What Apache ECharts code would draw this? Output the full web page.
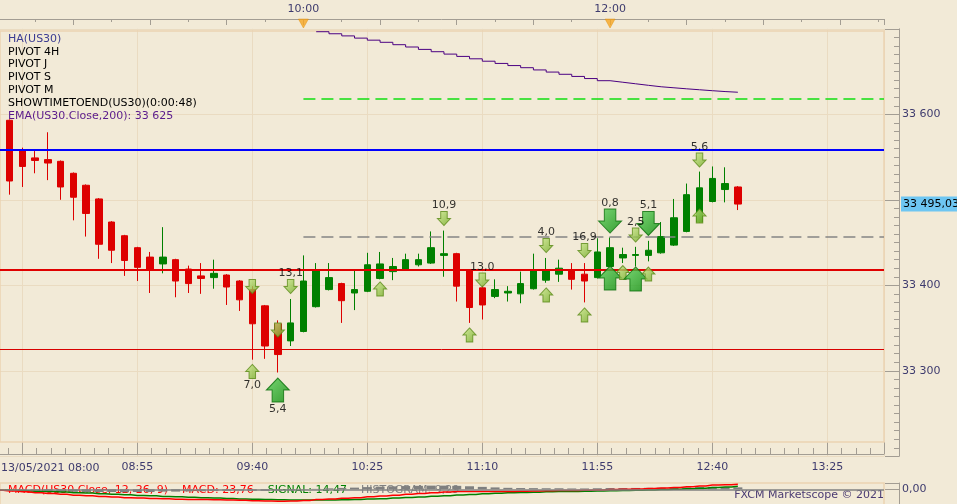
<!DOCTYPE html>
<html><head><meta charset="utf-8">
<script src="https://cdn.jsdelivr.net/npm/echarts@6/dist/echarts.min.js"></script>
<style>html,body{margin:0;padding:0;background:#F2EAD7;}#c{width:957px;height:504px;}</style>
</head><body><div id="c"></div>
<script>
// ---------- DATA ----------
const times = ['08:00','08:05','08:10','08:15','08:20','08:25','08:30','08:35','08:40','08:45','08:50','08:55',
'09:00','09:05','09:10','09:15','09:20','09:25','09:30','09:35','09:40','09:45','09:50','09:55',
'10:00','10:05','10:10','10:15','10:20','10:25','10:30','10:35','10:40','10:45','10:50','10:55',
'11:00','11:05','11:10','11:15','11:20','11:25','11:30','11:35','11:40','11:45','11:50','11:55',
'12:00','12:05','12:10','12:15','12:20','12:25','12:30','12:35','12:40','12:45','12:50'];
const opens = [33625,33593,33558,33549,33547,33545,33531,33517,33501,33474,33458,33444,33433,33425,33430,33419,33411,33409,33412,33405,33395,33376,33355,33335,33346,33375,33395,33402,33391,33393,33408,33416,33419,33424,33426,33435,33437,33418,33397,33387,33391,33390,33396,33406,33413,33418,33413,33409,33422,33432,33435,33435,33438,33447,33463,33474,33498,33512,33515];
const closes = [33558,33522,33539,33546,33543,33515,33503,33484,33448,33441,33429,33421,33418,33433,33405,33402,33408,33414,33398,33383,33355,33329,33319,33356,33405,33417,33409,33382,33395,33424,33425,33422,33430,33430,33444,33437,33399,33374,33377,33395,33393,33402,33417,33418,33420,33407,33405,33439,33444,33436,33436,33441,33457,33479,33506,33514,33525,33519,33495];
const lows = [33556,33506,33515,33531,33523,33500,33476,33457,33431,33426,33411,33405,33391,33414,33386,33391,33390,33396,33377,33370,33313,33314,33298,33329,33345,33374,33394,33356,33371,33392,33407,33406,33418,33422,33425,33410,33381,33356,33360,33385,33381,33379,33395,33403,33404,33395,33380,33408,33421,33426,33422,33428,33437,33446,33462,33473,33497,33497,33488];
const highs = [33628,33594,33561,33557,33579,33546,33532,33518,33502,33475,33459,33445,33439,33468,33431,33423,33426,33430,33413,33406,33399,33377,33359,33384,33435,33426,33426,33403,33417,33438,33439,33432,33437,33437,33463,33464,33438,33419,33400,33407,33399,33416,33437,33432,33430,33426,33426,33455,33456,33444,33445,33452,33474,33501,33519,33533,33539,33538,33516];

const emaStart = '10:05';
const emaValues = [33696.6,33694.2,33691.7,33689.1,33686.7,33684.2,33681.4,33678.7,33675.9,33673.2,33670.4,33667.7,33664.9,33662.1,33659.5,33657.0,33654.5,33651.9,33649.4,33646.8,33644.3,33641.8,33639.3,33637.5,33635.7,33633.9,33632.2,33631.0,33629.8,33628.7,33627.6,33626.6,33625.8,33625.0];

const pivotBlue = 33558.6, pivotRed = 33417.9, pivotRedThin = 33325.5;
const pivotGray = 33457.3, pivotGreen = 33618.7, pivotDashStart = '10:00';
const lastPrice = 33495.03;

const dnTimes  = ['09:40','09:50','09:55','10:55','11:10','11:35','11:50','12:00','12:10','12:15','12:35'];
const dnPrices = [33398.6,33347.7,33398.6,33478.1,33406.2,33446.5,33440.7,33475.2,33458.8,33472.3,33546.5];
const dnBig    = [0,0,0,0,0,0,0,1,0,1,0];
const dnLabels = ['','','13,1','10,9','13,0','4,0','16,9','0,8','2,5','5,1','5,6'];

const upTimes  = ['09:40','09:50','10:30','11:05','11:35','11:50','12:00','12:05','12:10','12:15','12:35'];
const upPrices = [33299.2,33277.5,33395.7,33341.9,33388.7,33365.3,33408.5,33414.9,33407.4,33413.2,33481.1];
const upBig    = [0,1,0,0,0,0,1,0,1,0,0];
const upLabels = ['7,0','5,4','','','','','','','','',''];

const sessionMarks = ['10:00','12:00'];

const macd = [-5,-8,-12,-16,-20,-24,-28,-31,-34,-37,-40,-42,-44,-45,-47,-48,-49,-50,-51,-52,-54,-56,-57,-56,-53,-49,-46,-43,-40,-36,-32,-28,-24,-20,-16,-13,-11,-10,-10,-10,-10,-9,-8,-7,-6,-6,-5,-3,-1,0,2,4,6,9,12,16,20,22,23.76];
const signal = [-4,-5,-7,-9,-11,-13,-16,-18,-21,-24,-26,-29,-31,-34,-36,-38,-40,-42,-44,-46,-47,-49,-50,-51,-51.5,-51,-50.5,-49.5,-48,-46.5,-44.5,-42,-39.5,-36.5,-33.5,-30.5,-27.5,-24.5,-21.5,-19,-17,-15,-13.5,-12,-11,-10,-9,-8,-7,-6,-4.5,-3,-1.5,0.5,3,5.5,8.5,11.5,14.47];
const hist = [-1,-3,-5,-7,-9,-11,-12,-13,-13,-13,-14,-13,-13,-11,-11,-10,-9,-8,-7,-6,-7,-7,-7,-5,-1.5,2,4.5,6.5,8,10.5,12.5,14,15.5,16.5,17.5,17.5,16.5,14.5,11.5,9,7,6,5.5,5,5,4,4,5,6,6,6.5,7,7.5,8.5,9,10.5,11.5,10.5,9.29];

const legendLines = [
  ['HA(US30)', '#3C3C92'],
  ['PIVOT 4H', '#000000'],
  ['PIVOT J', '#000000'],
  ['PIVOT S', '#000000'],
  ['PIVOT M', '#000000'],
  ['SHOWTIMETOEND(US30)(0:00:48)', '#000000'],
  ['EMA(US30.Close,200): ', '#5A1A8C']
];

// ---------- HELPERS / LAYOUT ----------
const FONT = 'DejaVu Sans';
const AXIS_TXT = '#3E3B6E';
const AXIS_LINE = '#A39D93';
const GRID_LINE = '#EADBC1';
const toMin = s => { const p = s.split(':').map(Number); return p[0]*60 + p[1]; };
const fmtTime = v => { const t = Math.round(v); return String(Math.floor(t/60)).padStart(2,'0') + ':' + String(t%60).padStart(2,'0'); };
const fmtInt = v => String(Math.round(v)).replace(/\B(?=(\d{3})+(?!\d))/g, ' ');
const fmtDec = v => v.toFixed(2).replace('.', ',').replace(/\B(?=(\d{3})+(?!\d))/g, ' ');

const PPM = 690 / 270;          // pixels per minute
const REF_PX = 137.3, REF_MIN = toMin('08:55');
const RIGHT_PX = 884;
const pxOf = m => REF_PX + (m - REF_MIN) * PPM;
const BASE_B = toMin('08:10');  // bottom axis origin (labels every 45 min)
const BASE_T = toMin('08:00');  // top axis origin (ticks every 30 min)
const xb = s => toMin(s) - BASE_B;
const minB = -45, maxB = (RIGHT_PX - REF_PX) / PPM + REF_MIN - BASE_B;
const minT = -30, maxT = (RIGHT_PX - REF_PX) / PPM + REF_MIN - BASE_T;
const leftB = pxOf(BASE_B + minB), leftT = pxOf(BASE_T + minT);

const smallStyle = {color:{type:'linear',x:0,y:0,x2:1,y2:1,colorStops:[{offset:0,color:'#CDEB8E'},{offset:1,color:'#6FA821'}]}, borderColor:'#5A8A16', borderWidth:1};
const bigStyle = {color:{type:'linear',x:0,y:0,x2:1,y2:1,colorStops:[{offset:0,color:'#5BD25B'},{offset:1,color:'#088A08'}]}, borderColor:'#0A6E0A', borderWidth:1};
const UP_PATH = 'path://M10,0 L20,10 L15,10 L15,20 L5,20 L5,10 L0,10 Z';
const DN_PATH = 'path://M5,0 L15,0 L15,10 L20,10 L10,20 L0,10 L5,10 Z';
const lblStyle = {show:true, formatter:'{b}', color:'#000', fontSize:11, fontFamily:FONT};

const emaIdx = times.indexOf(emaStart);

const chart = echarts.init(document.getElementById('c'), null, {renderer:'canvas'});
const gridCommon = {outerBoundsMode:'none', containLabel:false};
const option = {
  animation:false,
  backgroundColor:'#F2EAD7',
  textStyle:{fontFamily:FONT},
  grid:[
    Object.assign({left:leftB, right:957-RIGHT_PX, top:28.8, bottom:504-456.3}, gridCommon),
    Object.assign({left:leftT, right:957-RIGHT_PX, top:19, height:10}, gridCommon),
    Object.assign({left:leftB, right:957-RIGHT_PX, top:483, height:23.1}, gridCommon)
  ],
  xAxis:[
    {gridIndex:0, type:'value', min:minB, max:maxB, interval:45, position:'bottom', offset:-2.3,
     axisLine:{show:true, onZero:false, lineStyle:{color:AXIS_LINE}},
     axisTick:{show:true, inside:true, length:12, lineStyle:{color:AXIS_LINE}},
     minorTick:{show:true, splitNumber:8, length:6, lineStyle:{color:AXIS_LINE}},
     axisLabel:{margin:8, color:AXIS_TXT, fontSize:11, fontFamily:FONT, showMinLabel:false, showMaxLabel:false,
       formatter:v => (v > 0 && Math.abs(v % 45) < 1e-6) ? fmtTime(v + BASE_B) : ''},
     splitLine:{show:true, lineStyle:{color:GRID_LINE}}},
    {gridIndex:1, type:'value', min:minT, max:maxT, interval:30, position:'top',
     axisLine:{show:true, onZero:false, lineStyle:{color:AXIS_LINE}},
     axisTick:{show:true, inside:true, length:6, lineStyle:{color:AXIS_LINE}},
     minorTick:{show:true, splitNumber:2, length:3, lineStyle:{color:AXIS_LINE}},
     axisLabel:{margin:4, color:AXIS_TXT, fontSize:11, fontFamily:FONT,
       formatter:v => (v > 0 && Math.abs(v % 120) < 1e-6) ? fmtTime(v + BASE_T) : ''},
     splitLine:{show:false}},
    {gridIndex:2, type:'value', min:minB, max:maxB, show:false}
  ],
  yAxis:[
    {gridIndex:0, type:'value', position:'right', offset:15, min:33200, max:33700, interval:100,
     axisLine:{show:true, onZero:false, lineStyle:{color:AXIS_LINE}},
     axisTick:{show:true, inside:true, length:14, lineStyle:{color:AXIS_LINE}},
     minorTick:{show:true, splitNumber:10, length:5, lineStyle:{color:AXIS_LINE}},
     axisLabel:{margin:3, color:AXIS_TXT, fontSize:11, fontFamily:FONT,
       formatter:v => (v > 33250 && v < 33650 && Math.abs(v - lastPrice) > 15) ? fmtInt(v) : ''},
     splitLine:{show:true, lineStyle:{color:GRID_LINE}}},
    {gridIndex:1, type:'value', min:0, max:1, show:false},
    {gridIndex:2, type:'value', position:'right', offset:15, min:-80, max:30, interval:80,
     axisLine:{show:true, onZero:false, lineStyle:{color:AXIS_LINE}},
     axisTick:{show:true, inside:true, length:14, lineStyle:{color:AXIS_LINE}},
     axisLabel:{margin:3, color:AXIS_TXT, fontSize:11, fontFamily:FONT, formatter:v => v === 0 ? '0,00' : ''},
     splitLine:{show:false}}
  ],
  graphic:[
    {type:'rect', z:1, silent:true, shape:{x:0, y:31, width:RIGHT_PX, height:411}, style:{fill:'none', stroke:'#EBD4B2', lineWidth:1.5}},
    {type:'rect', z:1, silent:true, shape:{x:0, y:483, width:RIGHT_PX, height:40}, style:{fill:'none', stroke:'#EBD4B2', lineWidth:1.5}},
    ...legendLines.map((l, i) => ({type:'text', z:1, silent:true, x:8, y:39 + i*12.8,
      style:{text: l[0] + (i === legendLines.length-1 ? fmtInt(emaValues[emaValues.length-1]) : ''), fill:l[1], font:'11px "DejaVu Sans"', verticalAlign:'middle'}})),
    {type:'text', z:1, silent:true, x:1, y:468, style:{text:'13/05/2021 08:00', fill:AXIS_TXT, font:'11px "DejaVu Sans"', verticalAlign:'middle'}},
    {type:'text', z:1, silent:true, x:8, y:490, style:{
      text:'{r|MACD(US30.Close, 12, 26, 9)    MACD: ' + fmtDec(macd[macd.length-1]) + '}    {g|SIGNAL: ' + fmtDec(signal[signal.length-1]) + '}    {h|HISTOGRAM: ' + fmtDec(hist[hist.length-1]) + '}',
      font:'11px "DejaVu Sans"', verticalAlign:'middle',
      rich:{r:{fill:'#FF0000', font:'11px "DejaVu Sans"'}, g:{fill:'#008000', font:'11px "DejaVu Sans"'}, h:{fill:'#808080', font:'11px "DejaVu Sans"'}}}},
    {type:'text', z:1, silent:true, x:884, y:495, style:{text:'FXCM Marketscope \u00A9 2021', fill:'#4A3A72', font:'11px "DejaVu Sans"', align:'right', verticalAlign:'middle'}}
  ],
  series:[
    {type:'candlestick', xAxisIndex:0, yAxisIndex:0, barWidth:7, z:2,
     data: times.map((t, i) => [xb(t), opens[i], closes[i], lows[i], highs[i]]),
     encode:{x:0, y:[1,2,3,4]},
     itemStyle:{color:'#008000', color0:'#DD0000', borderColor:'#008000', borderColor0:'#DD0000', borderColorDoji:'#008000', borderWidth:1},
     markLine:{symbol:['none','none'], silent:true, animation:false, label:{show:false},
       data:[
         {yAxis:pivotBlue, lineStyle:{color:'#0000FF', width:2, type:'solid'}},
         {yAxis:pivotRed, lineStyle:{color:'#E00000', width:2, type:'solid'}},
         {yAxis:pivotRedThin, lineStyle:{color:'#D80000', width:1, type:'solid'}},
         [{coord:[xb(pivotDashStart), pivotGray], lineStyle:{color:'#858585', width:1.5, type:[12,6]}}, {coord:[maxB, pivotGray]}],
         [{coord:[xb(pivotDashStart), pivotGreen], lineStyle:{color:'#10E010', width:1.5, type:[12,6]}}, {coord:[maxB, pivotGreen]}]
       ]}},
    {type:'line', xAxisIndex:0, yAxisIndex:0, symbol:'none', z:6, silent:true,
     data:[[maxB, lastPrice]], lineStyle:{width:0},
     markLine:{symbol:['none','none'], silent:true, animation:false,
       data:[{yAxis:lastPrice, lineStyle:{color:'rgba(0,0,0,0)', width:1},
          label:{show:true, position:'end', distance:17, formatter:fmtDec(lastPrice), backgroundColor:'#6EC6F2', color:'#000',
                 padding:[2,3,2,2], fontSize:11, fontFamily:FONT}}]}},
    {type:'line', xAxisIndex:0, yAxisIndex:0, step:'end', symbol:'none', z:3,
     data: emaValues.map((v, i) => [xb(times[emaIdx + i]), v]),
     lineStyle:{color:'#4B0082', width:1}},
    {type:'scatter', xAxisIndex:0, yAxisIndex:0, symbol:DN_PATH, z:5,
     data: dnTimes.map((t, i) => ({name:dnLabels[i], value:[xb(t), dnPrices[i]], symbolSize: dnBig[i] ? [23,24] : [13,14], itemStyle: dnBig[i] ? bigStyle : smallStyle})),
     label:Object.assign({position:'top', distance:0}, lblStyle)},
    {type:'scatter', xAxisIndex:0, yAxisIndex:0, symbol:UP_PATH, z:5,
     data: upTimes.map((t, i) => ({name:upLabels[i], value:[xb(t), upPrices[i]], symbolSize: upBig[i] ? [23,24] : [13,14], itemStyle: upBig[i] ? bigStyle : smallStyle})),
     label:Object.assign({position:'bottom', distance:1}, lblStyle)},
    {type:'scatter', xAxisIndex:1, yAxisIndex:1, symbol:'path://M0,0 L10,0 L5,10 Z', symbolSize:[10,9], z:5,
     data: sessionMarks.map(t => [toMin(t) - BASE_T, 0.55]),
     itemStyle:{color:'#F6A623', borderColor:'#DE8A00', borderWidth:0.5}},
    {type:'bar', xAxisIndex:2, yAxisIndex:2, barWidth:9, z:2,
     data: times.map((t, i) => [xb(t), hist[i]]),
     itemStyle:{color:'#7F7F7F'},
     markLine:{symbol:['none','none'], silent:true, label:{show:false}, data:[{yAxis:0, lineStyle:{color:'#808080', width:1.5, type:'solid'}}]}},
    {type:'line', xAxisIndex:2, yAxisIndex:2, step:'middle', symbol:'none', z:3,
     data: times.map((t, i) => [xb(t), signal[i]]), lineStyle:{color:'#008000', width:1.5}},
    {type:'line', xAxisIndex:2, yAxisIndex:2, step:'middle', symbol:'none', z:3,
     data: times.map((t, i) => [xb(t), macd[i]]), lineStyle:{color:'#FF0000', width:1.5}}
  ]
};
chart.setOption(option);
</script></body></html>
